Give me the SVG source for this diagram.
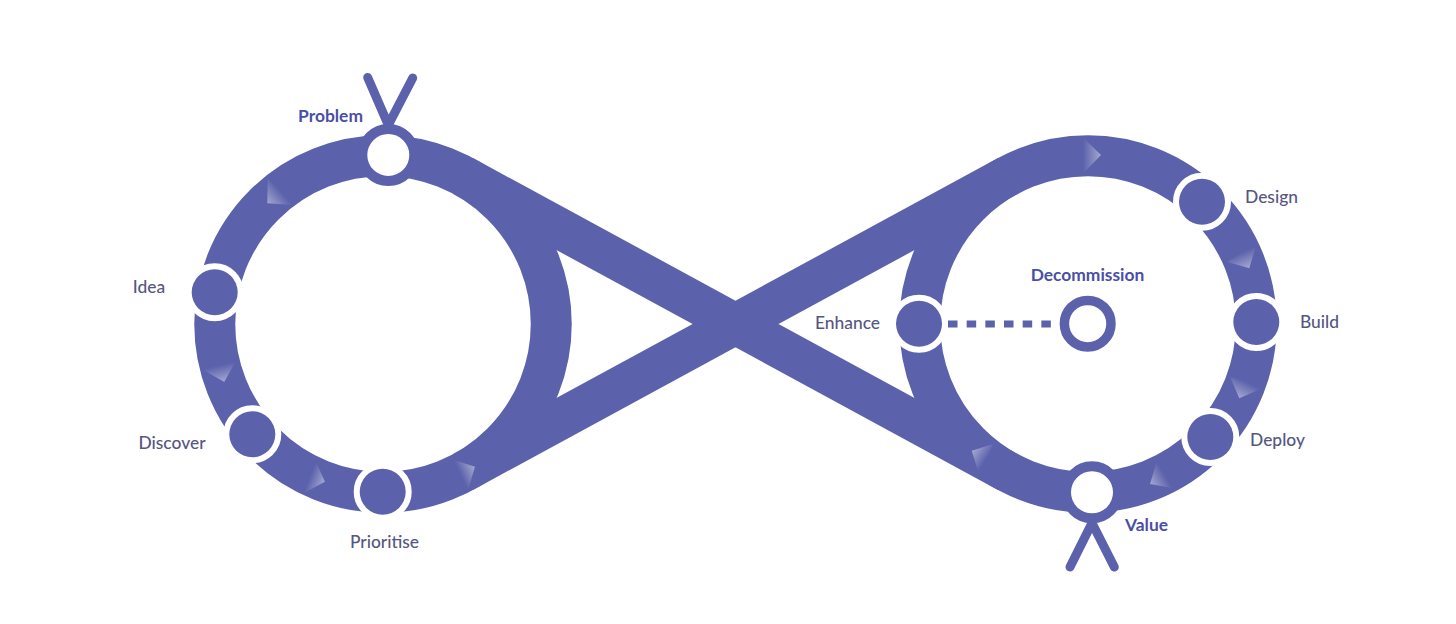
<svg xmlns="http://www.w3.org/2000/svg" xmlns:xlink="http://www.w3.org/1999/xlink" width="1456" height="624" viewBox="0 0 1456 624">
<style>
.band{fill:none;stroke:#5b61ab;stroke-width:41}
.leg{fill:none;stroke:#5b61ab;stroke-width:9;stroke-linecap:round}
.step{fill:#5b61ab;stroke:#fff;stroke-width:12;paint-order:stroke}
.gate{fill:#fff;stroke:#5b61ab;stroke-width:10}
.lbl{font-family:"Lato","Noto Sans",sans-serif;font-size:17.4px;font-weight:500;fill:#56567f;text-anchor:middle}
.key{font-family:"Lato","Noto Sans",sans-serif;font-size:17.4px;font-weight:700;fill:#4a4fa6;text-anchor:middle}
</style>
<defs>
<linearGradient id="fade"><stop offset="0" stop-color="#fff" stop-opacity=".45"/><stop offset="1" stop-color="#fff" stop-opacity="0"/></linearGradient>
<linearGradient id="a1" xlink:href="#fade" gradientUnits="userSpaceOnUse" x1="267" y1="203" x2="281" y2="191"/>
<linearGradient id="a2" xlink:href="#fade" gradientUnits="userSpaceOnUse" x1="224" y1="382" x2="220" y2="365"/>
<linearGradient id="a3" xlink:href="#fade" gradientUnits="userSpaceOnUse" x1="325" y1="482" x2="310" y2="476"/>
<linearGradient id="a4" xlink:href="#fade" gradientUnits="userSpaceOnUse" x1="475" y1="467" x2="460" y2="474"/>
<linearGradient id="a5" xlink:href="#fade" gradientUnits="userSpaceOnUse" x1="1101" y1="155" x2="1083" y2="155"/>
<linearGradient id="a6" xlink:href="#fade" gradientUnits="userSpaceOnUse" x1="1249" y1="268" x2="1242" y2="252"/>
<linearGradient id="a7" xlink:href="#fade" gradientUnits="userSpaceOnUse" x1="1239" y1="398" x2="1247" y2="382"/>
<linearGradient id="a8" xlink:href="#fade" gradientUnits="userSpaceOnUse" x1="1150" y1="484" x2="1165" y2="475"/>
<linearGradient id="a9" xlink:href="#fade" gradientUnits="userSpaceOnUse" x1="972" y1="451" x2="986" y2="460"/>
</defs>
<rect width="1456" height="624" fill="#fff"/>
<g id="connectors">
<circle class="band" cx="383" cy="324" r="168.25"/>
<circle class="band" cx="1088" cy="324" r="168.25"/>
<path class="band" d="M463.3 176.1L1007.7 471.9M463.3 471.9L1007.7 176.1"/>
<path class="leg" d="M367.7 77.5L388.3 125L412.7 78"/>
<path class="leg" d="M1070 567L1092 523L1114.3 567"/>
<path d="M948 324H1052" fill="none" stroke="#5b61ab" stroke-width="7" stroke-dasharray="9.5 9.17"/>
</g>
<g id="flow-arrows">
<polygon points="267.7,178.3 267.3,203.3 293.3,205" fill="url(#a1)"/>
<polygon points="203.3,370 236.7,359.3 224.3,382" fill="url(#a2)"/>
<polygon points="315,460 325,481.7 304.3,492.7" fill="url(#a3)"/>
<polygon points="451.7,459.3 475,466.7 468.3,489.3" fill="url(#a4)"/>
<polygon points="1083.5,138 1083.5,173 1101,155" fill="url(#a5)"/>
<polygon points="1226.7,261.7 1256.7,243.3 1249.3,268.3" fill="url(#a6)"/>
<polygon points="1230,376.7 1263.3,387.7 1239.3,398.3" fill="url(#a7)"/>
<polygon points="1156.7,461.7 1150,484 1173.3,488.3" fill="url(#a8)"/>
<polygon points="993.3,444 971.7,450.7 979.3,475" fill="url(#a9)"/>
</g>
<g id="problem"><circle class="gate" cx="388.3" cy="155" r="26"/><text class="key" x="330.5" y="122">Problem</text></g>
<g id="idea"><circle class="step" cx="214.7" cy="292.3" r="23"/><text class="lbl" x="149" y="293">Idea</text></g>
<g id="discover"><circle class="step" cx="252.3" cy="434.3" r="23"/><text class="lbl" x="172" y="449">Discover</text></g>
<g id="prioritise"><circle class="step" cx="382.7" cy="491.7" r="23"/><text class="lbl" x="384.5" y="547.5">Prioritise</text></g>
<g id="design"><circle class="step" cx="1202" cy="201.7" r="23"/><text class="lbl" x="1271.5" y="203">Design</text></g>
<g id="build"><circle class="step" cx="1256.3" cy="322" r="23"/><text class="lbl" x="1319.5" y="328">Build</text></g>
<g id="deploy"><circle class="step" cx="1210.3" cy="437" r="23"/><text class="lbl" x="1277.5" y="446">Deploy</text></g>
<g id="value"><circle class="gate" cx="1092" cy="492.3" r="26"/><text class="key" x="1146.5" y="530.5">Value</text></g>
<g id="enhance"><circle class="step" cx="919" cy="323.7" r="23"/><text class="lbl" x="847.5" y="329">Enhance</text></g>
<g id="decommission"><circle cx="1087.7" cy="323.7" r="23.3" fill="#fff" stroke="#5b61ab" stroke-width="9.5"/><text class="key" x="1087.5" y="280.5">Decommission</text></g>
</svg>
